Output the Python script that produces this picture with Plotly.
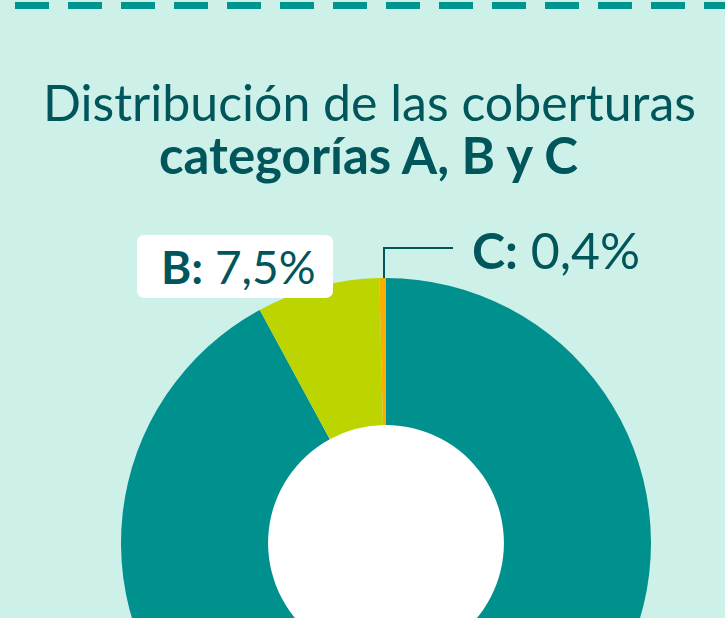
import plotly.graph_objects as go

# datos del gráfico
categorias = ["A", "B", "C"]
porcentajes = [92.1, 7.5, 0.4]
colores = ["#00918e", "#bcd400", "#f7b000"]
titulo_1 = "Distribución de las coberturas"
titulo_2 = "categorías A, B y C"
etiqueta_b = "<b>B:</b> 7,5%"
etiqueta_c = "<b>C:</b> 0,4%"

W = 725
H = 820          # figure is taller than the window, the bottom of the donut is cut off
FONDO = "#cdf1e9"
OSCURO = "#00565a"

# donut centre and radius in pixels (top-left origin)
cx, cy, R = 386, 543, 265


def dom_x(a, b):
    return [a / W, b / W]


def dom_y(top, bottom):
    return [(H - bottom) / H, (H - top) / H]


fig = go.Figure()

# white disc behind the hole
fig.add_trace(go.Pie(
    values=[1],
    marker=dict(colors=["white"], line=dict(width=0)),
    textinfo="none", hoverinfo="skip", showlegend=False, sort=False,
    domain=dict(x=dom_x(cx - 140, cx + 140), y=dom_y(cy - 140, cy + 140)),
))

fig.add_trace(go.Pie(
    labels=categorias,
    values=porcentajes,
    hole=0.445,
    sort=False,
    direction="clockwise",
    rotation=0,
    marker=dict(colors=colores, line=dict(width=0)),
    textinfo="none",
    showlegend=False,
    domain=dict(x=dom_x(cx - R, cx + R), y=dom_y(cy - R, cy + R)),
))

# hidden axes in pixel units for the decorations
fig.update_xaxes(range=[0, W], visible=False, fixedrange=True)
fig.update_yaxes(range=[H, 0], visible=False, fixedrange=True)

# dashed line at the top
fig.add_shape(type="line", x0=15, x1=W + 40, y0=5.5, y1=5.5, xref="x", yref="y",
              line=dict(color="#009490", width=7, dash="34px,19px"))

# rounded white box for label B
x0, x1, y0, y1, r = 137, 333, 235, 298, 8
path = (f"M{x0 + r},{y0} L{x1 - r},{y0} Q{x1},{y0} {x1},{y0 + r} "
        f"L{x1},{y1 - r} Q{x1},{y1} {x1 - r},{y1} L{x0 + r},{y1} "
        f"Q{x0},{y1} {x0},{y1 - r} L{x0},{y0 + r} Q{x0},{y0} {x0 + r},{y0} Z")
fig.add_shape(type="path", path=path, xref="x", yref="y",
              fillcolor="white", line=dict(width=0), layer="above")

# leader line for C
fig.add_shape(type="path", path=f"M{cx - 2},{cy - R} L{cx - 2},248 L453,248",
              xref="x", yref="y", line=dict(color=OSCURO, width=2), layer="above")

fuente = "Lato"
fig.add_annotation(x=369, y=102, xref="x", yref="y", text=titulo_1, showarrow=False,
                   font=dict(family=fuente, size=50, color=OSCURO))
fig.add_annotation(x=368, y=154, xref="x", yref="y", text=f"<b>{titulo_2}</b>", showarrow=False,
                   font=dict(family=fuente, size=51, color=OSCURO))
fig.add_annotation(x=238, y=266, xref="x", yref="y", text=etiqueta_b, showarrow=False,
                   font=dict(family=fuente, size=46, color=OSCURO))
fig.add_annotation(x=470, y=250, xref="x", yref="y", text=etiqueta_c, showarrow=False,
                   xanchor="left", font=dict(family=fuente, size=50, color=OSCURO))

fig.update_layout(
    width=W, height=H,
    margin=dict(l=0, r=0, t=0, b=0),
    paper_bgcolor=FONDO, plot_bgcolor=FONDO,
)

fig.write_html("out.html", config={"displayModeBar": False}, post_script=(
    "document.body.style.margin='0';"
    "document.body.style.overflow='hidden';"
    "document.documentElement.style.overflow='hidden';"))
